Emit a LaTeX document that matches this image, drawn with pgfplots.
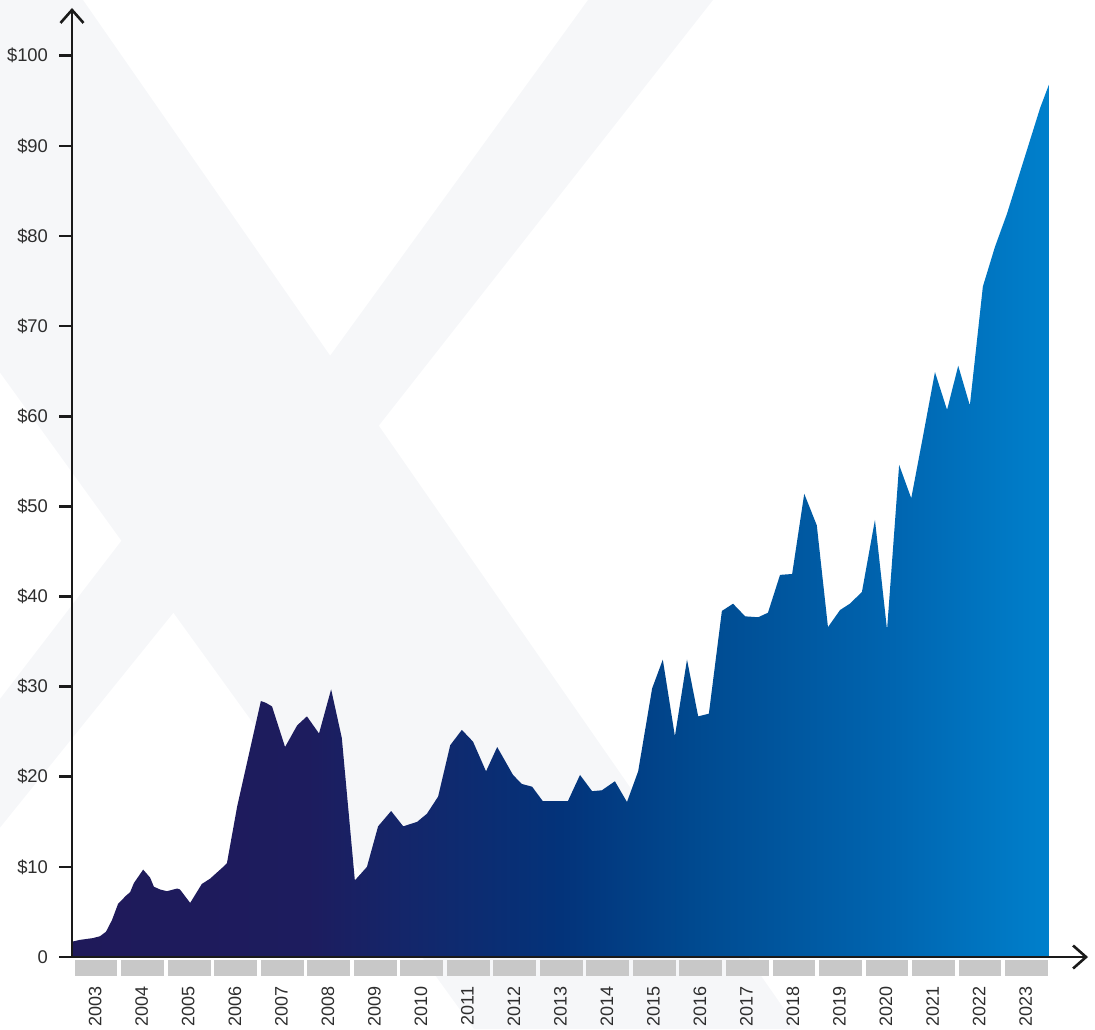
\documentclass[border=0pt]{standalone}
\usepackage{fontspec}
\setmainfont{Liberation Sans}
\usepackage{pgfplots}
\pgfplotsset{compat=1.18}
\usetikzlibrary{arrows.meta}

\definecolor{inkc}{RGB}{26,26,26}
\definecolor{labelc}{RGB}{45,45,45}
\definecolor{barc}{RGB}{200,200,200}
\definecolor{markc}{RGB}{246,247,249}
% area gradient, dark navy -> bright blue
\definecolor{g0}{RGB}{31,26,90}
\definecolor{g1}{RGB}{29,28,94}
\definecolor{g2}{RGB}{20,38,106}
\definecolor{g3}{RGB}{3,51,122}
\definecolor{g4}{RGB}{0,74,144}
\definecolor{g5}{RGB}{0,101,176}
\definecolor{g6}{RGB}{0,128,204}
\pgfdeclarehorizontalshading{areagrad}{100bp}{color(0bp)=(g0); color(25bp)=(g0);
  color(37bp)=(g1); color(42bp)=(g2); color(50bp)=(g3); color(57bp)=(g4);
  color(67bp)=(g5); color(75bp)=(g6); color(100bp)=(g6)}

\begin{document}
\begin{tikzpicture}
\useasboundingbox (0,0) rectangle (547.5pt,514.5pt);

% faint X in the background (pixel units, y down)
\begin{scope}[x=0.5pt, y=-0.5pt, shift={(0pt,514.5pt)}]
  \clip (0,0) rectangle (1095,1029);
  \fill[markc] (-269,0) -- (83,0) -- (798,1029) -- (474,1029) -- cycle;
  \fill[markc] (588,0) -- (713,0) -- (373,433) -- (327,360) -- cycle;
  \fill[markc] (122,540) -- (174,612) -- (-10,840) -- (-10,712) -- cycle;
\end{scope}

\begin{axis}[
    at={(36pt,36pt)}, anchor=south west,
    scale only axis,
    width=508pt, height=474.5pt,
    xmin=2003, xmax=2024.84,
    ymin=0, ymax=105.3,
    axis lines=left,
    axis on top,
    clip=false,
    axis line style={line width=1.3pt, draw=inkc, -{Straight Barb[length=6.5pt,width=11.5pt]}},
    ytick={0,10,...,100},
    yticklabels={0,\$10,\$20,\$30,\$40,\$50,\$60,\$70,\$80,\$90,\$100},
    ytick align=outside,
    major tick length=6.5pt,
    ytick style={line width=1.3pt, draw=inkc},
    yticklabel style={font=\fontsize{9.2}{10}\selectfont, text=labelc, xshift=-2pt},
    xtick={2003.5,2004.5,...,2023.5},
    xticklabels={2003,2004,2005,2006,2007,2008,2009,2010,2011,2012,2013,2014,2015,2016,2017,2018,2019,2020,2021,2022,2023},
    xtick style={draw=none},
    xticklabel shift=8pt,
    xticklabel style={rotate=90, anchor=east, font=\fontsize{9}{10}\selectfont, text=labelc},
]

% grey year bars under the axis
\pgfplotsinvokeforeach{2003,...,2023}{
  \fill[barc] (axis cs:#1.058,-0.33) rectangle (axis cs:#1.978,-2.11);
}

\addplot[draw=none, shade, shading=areagrad] table {
x y
2003.00 1.7
2003.17 1.9
2003.45 2.1
2003.60 2.3
2003.73 2.8
2003.86 4.1
2003.99 5.9
2004.16 6.8
2004.25 7.2
2004.33 8.2
2004.53 9.7
2004.68 8.8
2004.76 7.8
2004.89 7.5
2005.04 7.3
2005.26 7.6
2005.32 7.5
2005.54 6.0
2005.79 8.1
2005.97 8.7
2006.25 10.0
2006.33 10.4
2006.55 16.7
2007.06 28.4
2007.17 28.2
2007.30 27.8
2007.58 23.3
2007.84 25.7
2008.05 26.7
2008.31 24.8
2008.57 29.7
2008.80 24.3
2009.08 8.5
2009.34 10.0
2009.58 14.5
2009.86 16.2
2010.12 14.5
2010.42 15.0
2010.63 15.9
2010.87 17.8
2011.13 23.5
2011.38 25.2
2011.62 23.9
2011.90 20.6
2012.14 23.3
2012.48 20.2
2012.67 19.2
2012.89 18.9
2013.12 17.3
2013.66 17.3
2013.92 20.2
2014.18 18.4
2014.39 18.5
2014.67 19.5
2014.93 17.2
2015.17 20.6
2015.47 29.8
2015.70 33.0
2015.96 24.5
2016.22 33.0
2016.46 26.7
2016.69 27.0
2016.97 38.4
2017.21 39.2
2017.47 37.8
2017.75 37.7
2017.96 38.2
2018.22 42.4
2018.48 42.5
2018.74 51.4
2019.01 47.9
2019.25 36.6
2019.51 38.5
2019.72 39.2
2019.98 40.5
2020.26 48.5
2020.52 36.3
2020.78 54.6
2021.04 50.9
2021.29 57.7
2021.55 64.9
2021.81 60.7
2022.05 65.6
2022.30 61.2
2022.58 74.4
2022.84 78.8
2023.10 82.5
2023.81 94.2
2024.00 96.8
} \closedcycle;

\end{axis}
\end{tikzpicture}
\end{document}
